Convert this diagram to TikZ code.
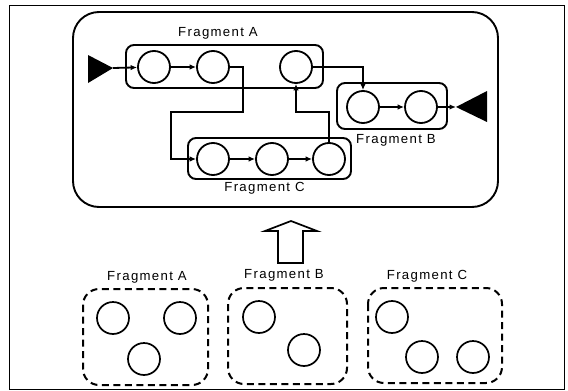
\documentclass[tikz,border=0pt]{standalone}
\usepackage{fontspec}
\setmainfont{Liberation Sans}[LetterSpace=10]
\usetikzlibrary{arrows.meta}
\begin{document}
\begin{tikzpicture}[x=1pt,y=-1pt,
  circ/.style={circle,draw,line width=1.8pt,minimum size=32pt,inner sep=0pt},
  bcirc/.style={circle,draw,line width=1.7pt,minimum size=32pt,inner sep=0pt},
  fragbox/.style={draw,line width=1.9pt,rounded corners=8pt,inner sep=0pt},
  dbox/.style={draw,line width=2pt,rounded corners=16pt,dash pattern=on 7pt off 4.5pt},
  lbl/.style={font=\fontsize{13.2pt}{15pt}\selectfont,inner sep=0pt},
  conn/.style={line width=1.8pt,-{Latex[length=6.5pt,width=5.5pt]}},
  wire/.style={line width=1.8pt}]
\useasboundingbox (0,0) rectangle (568,391);
% outer frame
\draw[line width=0.9pt] (9,5) rectangle (564,389);
% main rounded box
\draw[line width=1.9pt,rounded corners=26pt] (73,12) rectangle (498,207);
% fragment boxes
\node[fragbox,minimum width=197pt,minimum height=43pt] (fa) at (224.5,66.5) {};
\node[fragbox,minimum width=110pt,minimum height=46pt] (fb) at (392,106) {};
\node[fragbox,minimum width=163pt,minimum height=41pt] (fc) at (269.5,158.5) {};
\node[lbl] (la) at (218,33) {Fragment A};
\node[lbl] (lb) at (396,140) {Fragment B};
\node[lbl] (lc) at (264.5,188) {Fragment C};
% circles
\node[circ] (A1) at (154,67) {};
\node[circ] (A2) at (213,67) {};
\node[circ] (A3) at (296,67) {};
\node[circ] (B1) at (363,107) {};
\node[circ] (B2) at (421,107) {};
\node[circ] (C1) at (213,159) {};
\node[circ] (C2) at (272,159) {};
\node[circ] (C3) at (329,159) {};
% start / end triangles
\coordinate (st) at (113,68);
\fill (88,55) -- (st) -- (88,83) -- cycle;
\coordinate (et) at (456,107);
\fill (487,91) -- (et) -- (487,122) -- cycle;
% connectors
\draw[conn] (st) -- (A1);
\draw[conn] (A1) -- (A2);
\draw[conn] (B1) -- (B2);
\draw[conn] (C1) -- (C2);
\draw[conn] (C2) -- (C3);
\draw[conn] (B2) -- (et);
\coordinate (k1) at (243,112);
\coordinate (k2) at (171,112);
\draw[conn] (A2) -| (k1) -- (k2) |- (C1);
\coordinate (k3) at (329,112);
\draw[conn] (C3) -- (k3) -| (A3);
\draw[conn] (A3) -| (B1);
% hollow up arrow
\draw[line width=1.7pt,line join=miter] (291,221) -- (317,231) -- (303,231) -- (303,263) -- (278,263) -- (278,231) -- (265,231) -- cycle;
% bottom dashed fragments
\draw[dbox] (83,289) rectangle (208,385);
\draw[dbox] (228,288) rectangle (347,384);
\draw[dbox] (368,288) rectangle (502,383);
\node[lbl] (lba) at (147,277) {Fragment A};
\node[lbl] (lbb) at (284,275) {Fragment B};
\node[lbl] (lbc) at (427,276) {Fragment C};
\node[bcirc] (a1) at (113,318) {};
\node[bcirc] (a2) at (180,318) {};
\node[bcirc] (a3) at (144,359) {};
\node[bcirc] (b1) at (259,317) {};
\node[bcirc] (b2) at (304,350) {};
\node[bcirc] (c1) at (392,317) {};
\node[bcirc] (c2) at (422,357) {};
\node[bcirc] (c3) at (473,357) {};
\end{tikzpicture}
\end{document}
